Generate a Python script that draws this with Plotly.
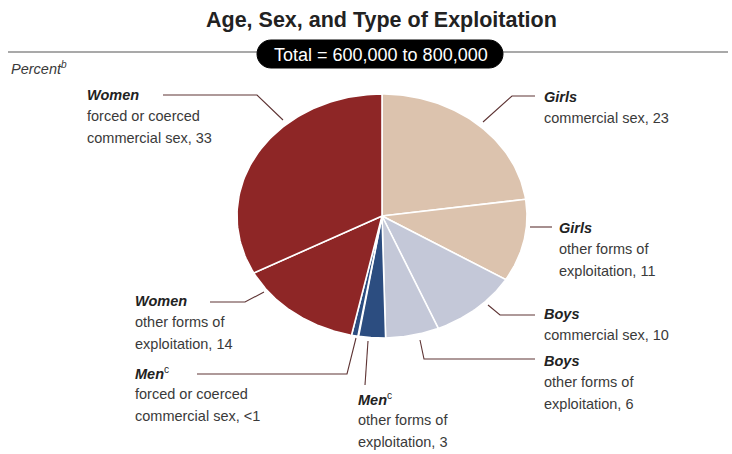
import numpy as np
import plotly.graph_objects as go

# ---- data ----
groups = ["Girls", "Girls", "Boys", "Boys", "Men", "Men", "Women", "Women"]
group_sup = ["", "", "", "", "c", "c", "", ""]
types = ["commercial sex", "other forms of\nexploitation", "commercial sex",
         "other forms of\nexploitation", "other forms of\nexploitation",
         "forced or coerced\ncommercial sex", "other forms of\nexploitation",
         "forced or coerced\ncommercial sex"]
values = [23, 11, 10, 6, 3, 0.8, 14, 33]
value_text = ["23", "11", "10", "6", "3", "<1", "14", "33"]
colors = ["#dcc3ae", "#dcc3ae", "#c4c8d8", "#c4c8d8", "#2c4d80", "#2c4d80",
          "#8e2626", "#8e2626"]
title_text = "Age, Sex, and Type of Exploitation"
total_text = "Total = 600,000 to 800,000"
unit_text = "Percent"

# ---- layout parameters (pixel space) ----
W, H = 732, 454
cx, cy, rx, ry = 382, 216, 145, 122
FONT = "Liberation Sans, Arial, sans-serif"
LINE_C = "#5e3434"
TXT_C = "#3a3a3a"

# label anchor (x, first line y) and leader polylines
label_pos = [(542, 97), (557, 228), (542, 314), (542, 361),
             (356, 399), (133, 373), (133, 301), (85, 95)]
leaders = [
    [(483, 122), (512, 96), (535, 96)],
    [(530, 227), (552, 227)],
    [(488, 305), (500, 315), (535, 315)],
    [(420, 340), (424, 359), (535, 359)],
    [(368, 341), (365, 385)],
    [(197, 374), (347, 374), (356, 338)],
    [(210, 302), (245, 302), (264, 292)],
    [(163, 95), (257, 95), (283, 120)],
]
LH = 21.3

fig = go.Figure()

total = float(sum(values))
cum = np.concatenate([[0], np.cumsum(values)]) / total * 2 * np.pi
for i, v in enumerate(values):
    th = np.linspace(cum[i], cum[i + 1], 80)
    xs = np.concatenate([[cx], cx + rx * np.sin(th), [cx]])
    ys = np.concatenate([[cy], cy - ry * np.cos(th), [cy]])
    fig.add_trace(go.Scatter(x=xs, y=ys, mode="lines", fill="toself",
                             fillcolor=colors[i],
                             line=dict(color="white", width=1.6),
                             hoverinfo="skip", showlegend=False))

shapes = [dict(type="line", xref="x", yref="y", x0=8, y0=52, x1=728, y1=52,
               line=dict(color="#555555", width=1.2))]
# pill
x0p, x1p, y0p, y1p = 257, 503, 40, 68
r = (y1p - y0p) / 2
k = 0.5523 * r
ym = (y0p + y1p) / 2
path = (f"M {x0p+r},{y0p} L {x1p-r},{y0p} "
        f"C {x1p-r+k},{y0p} {x1p},{ym-k} {x1p},{ym} "
        f"C {x1p},{ym+k} {x1p-r+k},{y1p} {x1p-r},{y1p} "
        f"L {x0p+r},{y1p} "
        f"C {x0p+r-k},{y1p} {x0p},{ym+k} {x0p},{ym} "
        f"C {x0p},{ym-k} {x0p+r-k},{y0p} {x0p+r},{y0p} Z")
shapes.append(dict(type="path", xref="x", yref="y", path=path,
                   fillcolor="black", line=dict(color="black", width=1)))
for pts in leaders:
    p = "M " + " L ".join(f"{x},{y}" for x, y in pts)
    shapes.append(dict(type="path", xref="x", yref="y", path=p,
                       line=dict(color=LINE_C, width=1.1)))

ann = []
ann.append(dict(x=381, y=20, xref="x", yref="y", text=f"<b>{title_text}</b>",
                showarrow=False, xanchor="center", yanchor="middle",
                font=dict(family=FONT, size=21.5, color="#222222")))
ann.append(dict(x=381, y=54.5, xref="x", yref="y", text=total_text,
                showarrow=False, xanchor="center", yanchor="middle",
                font=dict(family=FONT, size=18, color="white")))
ann.append(dict(x=9, y=68, xref="x", yref="y",
                text=f"<i>{unit_text}</i><sup><i>b</i></sup>",
                showarrow=False, xanchor="left", yanchor="middle",
                font=dict(family=FONT, size=14.5, color=TXT_C)))

for i in range(len(values)):
    lx, ly = label_pos[i]
    head = f"<b><i>{groups[i]}</i></b>"
    if group_sup[i]:
        head += f"<sup>{group_sup[i]}</sup>"
    lines = types[i].split("\n")
    lines[-1] = lines[-1] + ", " + value_text[i]
    all_lines = [head] + lines
    for j, t in enumerate(all_lines):
        ann.append(dict(x=lx, y=ly + j * LH, xref="x", yref="y", text=t,
                        showarrow=False, xanchor="left", yanchor="middle",
                        font=dict(family=FONT, size=14.5,
                                  color="#222222" if j == 0 else TXT_C)))

fig.update_layout(
    width=W, height=H, margin=dict(l=0, r=0, t=0, b=0),
    paper_bgcolor="white", plot_bgcolor="white",
    xaxis=dict(range=[0, W], visible=False, fixedrange=True),
    yaxis=dict(range=[H, 0], visible=False, fixedrange=True),
    shapes=shapes, annotations=ann, showlegend=False,
)
fig.write_html("out.html", config={"displayModeBar": False, "staticPlot": True})

# remove the default page margin so the figure sits at the window's corner
with open("out.html", encoding="utf-8") as f:
    html = f.read()
html = html.replace("<body>", '<body style="margin:0;overflow:hidden">', 1)
with open("out.html", "w", encoding="utf-8") as f:
    f.write(html)
